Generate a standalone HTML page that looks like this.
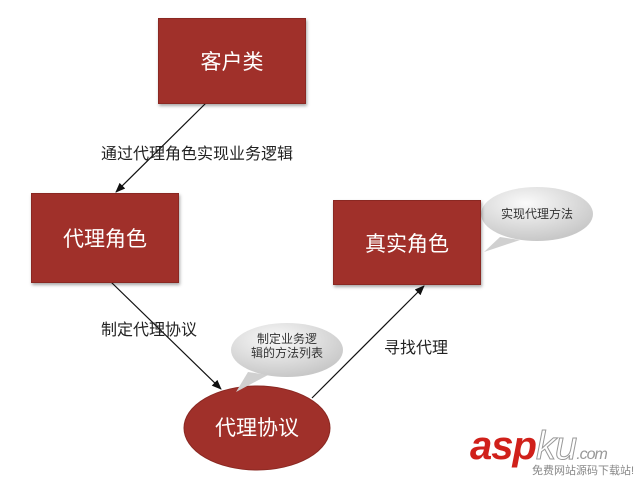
<!DOCTYPE html>
<html><head><meta charset="utf-8"><style>
body{margin:0;width:640px;height:480px;background:#fff;overflow:hidden;position:relative;font-family:"Liberation Sans","Noto Sans CJK SC",sans-serif}
.box{position:absolute;background:#a0302a;color:#fff;display:flex;align-items:center;justify-content:center;font-size:21px;box-shadow:1px 2px 3px rgba(0,0,0,.35);border:1px solid #8a2822}
.lbl{position:absolute;font-size:16px;color:#222;white-space:nowrap}
</style></head><body>
<svg width="640" height="480" style="position:absolute;left:0;top:0">
<defs>
<marker id="a" markerWidth="10" markerHeight="10" refX="9" refY="5" orient="auto" markerUnits="userSpaceOnUse"><path d="M0,1 L10,5 L0,9 z" fill="#111"/></marker>
<radialGradient id="g" cx="40%" cy="30%" r="70%"><stop offset="0" stop-color="#fafafa"/><stop offset="1" stop-color="#c8c8c8"/></radialGradient>
</defs>
<line x1="206" y1="103" x2="116" y2="192" stroke="#111" stroke-width="1.2" marker-end="url(#a)"/>
<line x1="111" y1="282" x2="221" y2="389" stroke="#111" stroke-width="1.2" marker-end="url(#a)"/>
<line x1="312" y1="398" x2="424" y2="286" stroke="#111" stroke-width="1.2" marker-end="url(#a)"/>
<ellipse cx="257" cy="428" rx="73" ry="42" fill="#a0302a" stroke="#8a2822"/>
<path d="M500,237 L484,252 L520,240 z" fill="#d0d0d0"/>
<ellipse cx="537" cy="214" rx="56" ry="27" fill="url(#g)"/>
<path d="M248,372 L236,392 L268,375 z" fill="#d0d0d0"/>
<ellipse cx="287" cy="350" rx="56" ry="27" fill="url(#g)"/>
</svg>
<div class="box" style="left:158px;top:18px;width:146px;height:84px">客户类</div>
<div class="box" style="left:31px;top:193px;width:146px;height:88px">代理角色</div>
<div class="box" style="left:333px;top:200px;width:146px;height:83px">真实角色</div>
<div style="position:absolute;left:184px;top:412px;width:146px;text-align:center;color:#fff;font-size:21px">代理协议</div>
<div class="lbl" style="left:101px;top:140px">通过代理角色实现业务逻辑</div>
<div class="lbl" style="left:101px;top:316px">制定代理协议</div>
<div class="lbl" style="left:384px;top:334px">寻找代理</div>
<div style="position:absolute;left:490px;top:205px;width:94px;text-align:center;font-size:12px;color:#333">实现代理方法</div>
<div style="position:absolute;left:240px;top:332px;width:94px;text-align:center;font-size:12px;line-height:14px;color:#333">制定业务逻<br>辑的方法列表</div>
<div style="position:absolute;left:470px;top:424px;font-size:40px;font-weight:bold;font-style:italic;color:#d0201a;letter-spacing:-1px">asp<span style="color:#fff;-webkit-text-stroke:1px #999;font-weight:normal">ku</span><span style="font-size:16px;color:#999;font-weight:normal">.com</span></div>
<div style="position:absolute;left:532px;top:462px;font-size:11px;color:#888">免费网站源码下载站!</div>
</body></html>
